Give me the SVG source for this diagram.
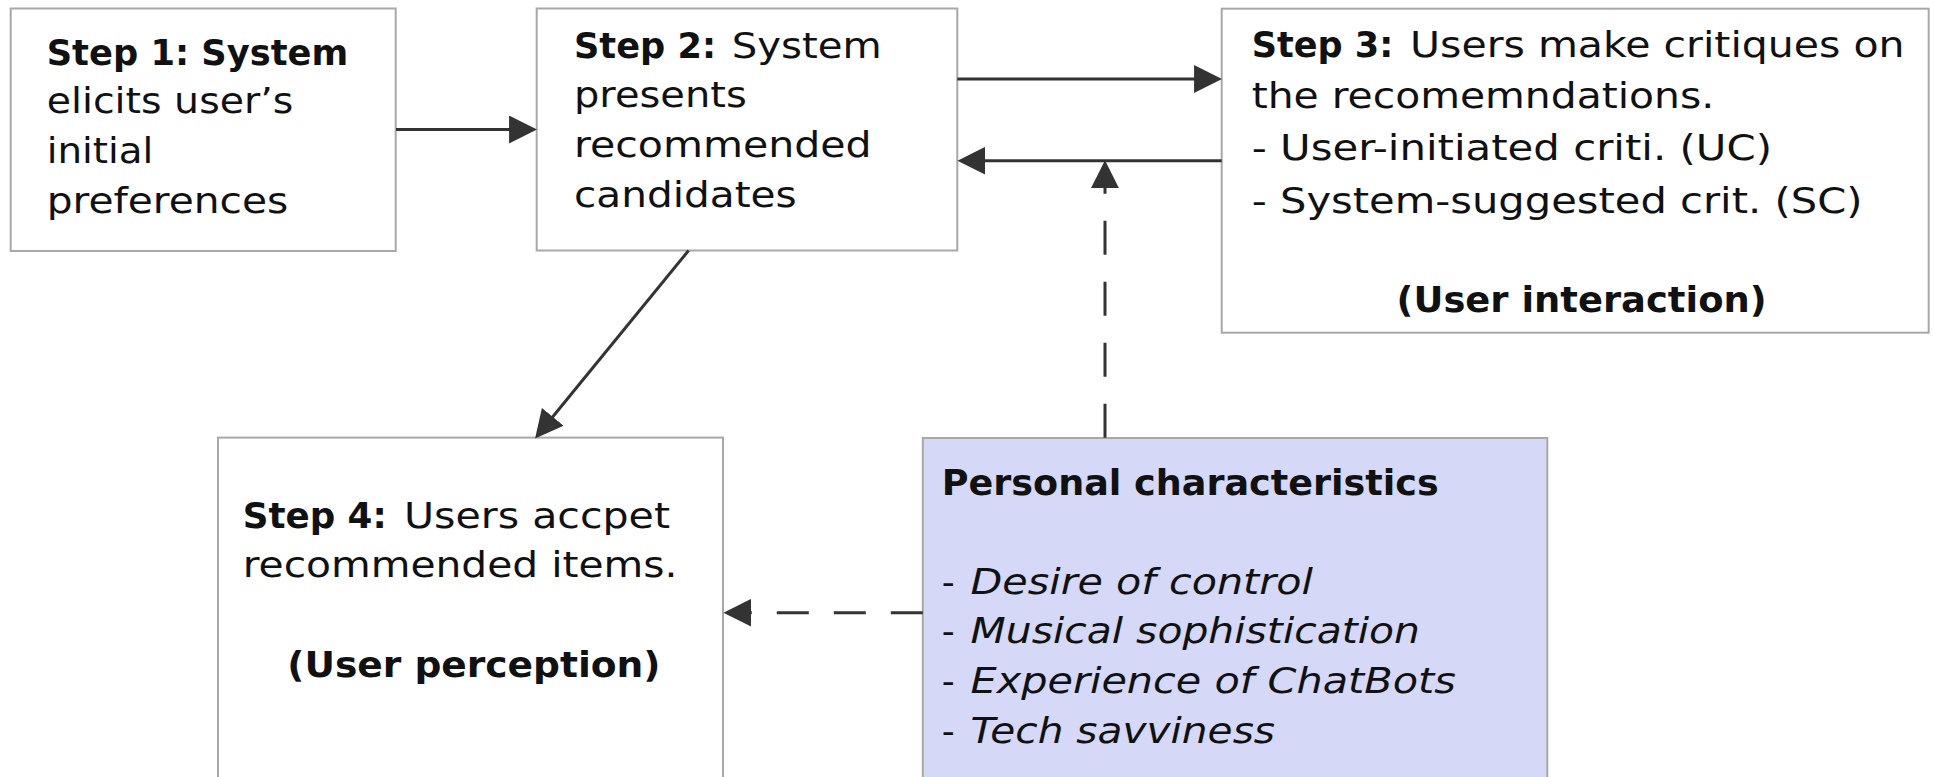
<svg xmlns="http://www.w3.org/2000/svg" width="1934" height="777" viewBox="0 0 1934 777">
  <style>
    .box { fill: #ffffff; stroke: #a8a8a8; stroke-width: 2; }
    .pc { fill: #d5d8f7; stroke: #a8a8a8; stroke-width: 2; }
    .t { font-family: "DejaVu Sans", "Liberation Sans", sans-serif; font-size: 36px; fill: #111111; }
    .b { font-weight: bold; }
    .i { font-style: italic; }
    .ln { fill: none; stroke: #333333; stroke-width: 3; }
    .dv { stroke-dasharray: 34 27; }
    .dh { stroke-dasharray: 32 25; }
  </style>
  <defs>
    <marker id="ah" markerUnits="userSpaceOnUse" markerWidth="28" markerHeight="28" viewBox="0 0 26 26" refX="6" refY="13" orient="auto">
      <path d="M0,0 L26,13 L0,26 Z" fill="#333333"/>
    </marker>
  </defs>
  <rect width="1934" height="777" fill="#ffffff"/>

  <g id="step1">
    <rect class="box" x="10.7" y="8.5" width="385" height="242.5"/>
    <text class="t b" x="46.7" y="65" textLength="301.6" lengthAdjust="spacingAndGlyphs">Step 1: System</text>
    <text class="t" x="46.7" y="113.3" textLength="246.6" lengthAdjust="spacingAndGlyphs">elicits user’s</text>
    <text class="t" x="46.7" y="163.3" textLength="106.6" lengthAdjust="spacingAndGlyphs">initial</text>
    <text class="t" x="46.7" y="213.3" textLength="241.6" lengthAdjust="spacingAndGlyphs">preferences</text>
  </g>

  <g id="step2">
    <rect class="box" x="536.7" y="8.5" width="420.6" height="242"/>
    <text class="t b" x="574" y="58.3" textLength="142" lengthAdjust="spacingAndGlyphs">Step 2:</text>
    <text class="t" x="731.7" y="58.3" textLength="150" lengthAdjust="spacingAndGlyphs">System</text>
    <text class="t" x="574" y="106.7" textLength="172.7" lengthAdjust="spacingAndGlyphs">presents</text>
    <text class="t" x="574" y="156.7" textLength="297.7" lengthAdjust="spacingAndGlyphs">recommended</text>
    <text class="t" x="574" y="206.7" textLength="222.7" lengthAdjust="spacingAndGlyphs">candidates</text>
  </g>

  <g id="step3">
    <rect class="box" x="1221.7" y="8.7" width="707" height="324"/>
    <text class="t b" x="1251.7" y="57.3" textLength="141.6" lengthAdjust="spacingAndGlyphs">Step 3:</text>
    <text class="t" x="1410" y="57.3" textLength="494.6" lengthAdjust="spacingAndGlyphs">Users make critiques on</text>
    <text class="t" x="1251.7" y="107.8" textLength="462.5" lengthAdjust="spacingAndGlyphs">the recomemndations.</text>
    <text class="t" x="1251.7" y="160" textLength="520.3" lengthAdjust="spacingAndGlyphs">- User-initiated criti. (UC)</text>
    <text class="t" x="1251.7" y="212.5" textLength="610.8" lengthAdjust="spacingAndGlyphs">- System-suggested crit. (SC)</text>
    <text class="t b" x="1396.6" y="311.5" textLength="370" lengthAdjust="spacingAndGlyphs">(User interaction)</text>
  </g>

  <g id="step4">
    <rect class="box" x="218" y="437.6" width="505" height="360"/>
    <text class="t b" x="242.7" y="527.7" textLength="144" lengthAdjust="spacingAndGlyphs">Step 4:</text>
    <text class="t" x="404" y="527.7" textLength="266" lengthAdjust="spacingAndGlyphs">Users accpet</text>
    <text class="t" x="242.7" y="577.3" textLength="434.8" lengthAdjust="spacingAndGlyphs">recommended items.</text>
    <text class="t b" x="287.3" y="676.6" textLength="373.2" lengthAdjust="spacingAndGlyphs">(User perception)</text>
  </g>

  <g id="personal">
    <rect class="pc" x="922.8" y="438" width="624.5" height="360"/>
    <text class="t b" x="941.7" y="495" textLength="497" lengthAdjust="spacingAndGlyphs">Personal characteristics</text>
    <text class="t" x="941.7" y="594">-</text>
    <text class="t i" x="970.5" y="594" textLength="342.5" lengthAdjust="spacingAndGlyphs">Desire of control</text>
    <text class="t" x="941.7" y="643.3">-</text>
    <text class="t i" x="970.5" y="643.3" textLength="449.5" lengthAdjust="spacingAndGlyphs">Musical sophistication</text>
    <text class="t" x="941.7" y="693.3">-</text>
    <text class="t i" x="970.5" y="693.3" textLength="485.3" lengthAdjust="spacingAndGlyphs">Experience of ChatBots</text>
    <text class="t" x="941.7" y="743.3">-</text>
    <text class="t i" x="970.5" y="743.3" textLength="304.5" lengthAdjust="spacingAndGlyphs">Tech savviness</text>
  </g>

  <g id="connectors">
    <line class="ln" x1="396" y1="129.5" x2="515.5" y2="129.5" marker-end="url(#ah)"/>
    <line class="ln" x1="957.3" y1="79" x2="1200.5" y2="79" marker-end="url(#ah)"/>
    <line class="ln" x1="1221.7" y1="160.7" x2="979" y2="160.7" marker-end="url(#ah)"/>
    <line class="ln" x1="688.6" y1="250.5" x2="548.7" y2="421.8" marker-end="url(#ah)"/>
    <line class="ln dv" x1="1105" y1="437.7" x2="1105" y2="181.7" marker-end="url(#ah)"/>
    <line class="ln dh" x1="922.8" y1="612.7" x2="745" y2="612.7" marker-end="url(#ah)"/>
  </g>
</svg>
